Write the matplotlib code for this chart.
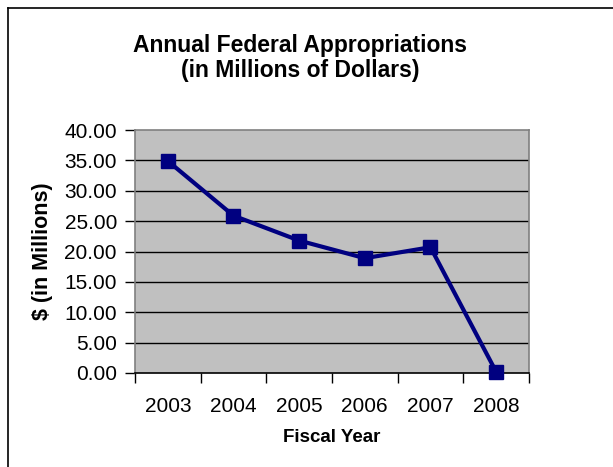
import matplotlib
matplotlib.use("Agg")
import matplotlib.pyplot as plt
from matplotlib.lines import Line2D
import numpy as np

# chart data
years = ["2003", "2004", "2005", "2006", "2007", "2008"]
appropriations = [34.9, 25.9, 21.8, 18.9, 20.7, 0.2]
y_ticks = [0, 5, 10, 15, 20, 25, 30, 35, 40]

plt.rcParams['font.family'] = ['Liberation Sans', 'DejaVu Sans']

fig = plt.figure(figsize=(6.13, 4.67), dpi=100)
ax = fig.add_axes([0.2202, 0.2013, 0.6427, 0.5203])

x = np.arange(len(years))
ax.set_facecolor("#C0C0C0")

# gridlines
for v in y_ticks[1:-1]:
    ax.axhline(v, color="black", lw=1.0, zorder=1)

ax.plot(x, appropriations, color="#000080", lw=3, marker="s", markersize=10,
        markerfacecolor="#000080", markeredgecolor="#000080", zorder=3, clip_on=False)

ax.set_xlim(-0.5, len(years) - 0.5)
ax.set_ylim(0, 40)

ax.set_yticks(y_ticks)
ax.set_yticklabels(["%.2f" % v for v in y_ticks], fontsize=15)
ax.set_xticks(np.arange(-0.5, len(years), 1.0))
ax.set_xticklabels([])
ax.set_xticks(x, minor=True)
ax.set_xticklabels(years, minor=True, fontsize=15)
ax.tick_params(axis="x", which="major", direction="out", length=7, width=1, color="black")
ax.tick_params(axis="x", which="minor", length=0, pad=17)
ax.tick_params(axis="y", direction="out", length=7, width=1, color="black", pad=6)

for side in ["top", "right", "left"]:
    ax.spines[side].set_color("#808080")
    ax.spines[side].set_linewidth(1.2)
ax.spines["bottom"].set_color("black")
ax.spines["bottom"].set_linewidth(1.2)

ax.set_xlabel("Fiscal Year", fontsize=13.5, fontweight="bold", labelpad=10)
ax.set_ylabel("$ (in Millions)", fontsize=15.5, fontweight="bold", labelpad=8)

fig.text(0.49, 1 - 45 / 467, "Annual Federal Appropriations", ha="center", va="center",
         fontsize=16.5, fontweight="bold")
fig.text(0.49, 1 - 71 / 467, "(in Millions of Dollars)", ha="center", va="center",
         fontsize=16.5, fontweight="bold")

# outer chart frame (left and top edges)
fig.add_artist(Line2D([8 / 613, 8 / 613], [0, 1 - 8 / 467], transform=fig.transFigure,
                      color="black", lw=1.2))
fig.add_artist(Line2D([8 / 613, 1], [1 - 8 / 467, 1 - 8 / 467], transform=fig.transFigure,
                      color="black", lw=1.2))

fig.savefig("out.png", dpi=100)
